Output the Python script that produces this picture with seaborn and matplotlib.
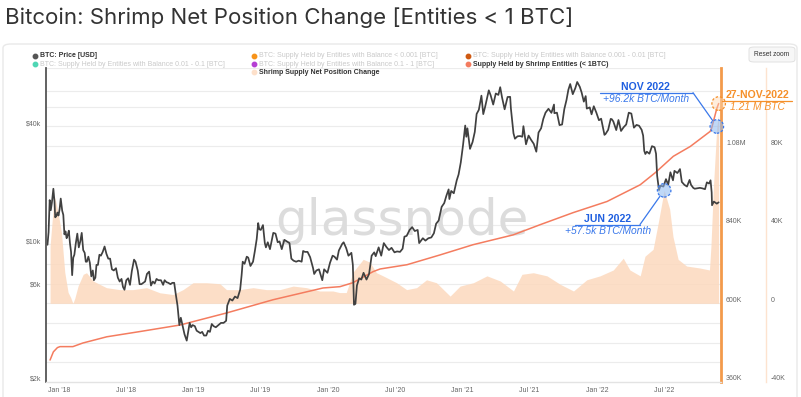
import numpy as np
import pandas as pd
import matplotlib
matplotlib.use("Agg")
import matplotlib.pyplot as plt
import matplotlib.dates as mdates
import matplotlib.ticker as mticker
from matplotlib.lines import Line2D
from matplotlib.patches import FancyBboxPatch, ConnectionPatch
from matplotlib.transforms import ScaledTranslation
import seaborn as sns

# ---------------- data ----------------
TITLE = "Bitcoin: Shrimp Net Position Change [Entities < 1 BTC]"

PRICE_DATES = [
    "2017-12-01", "2017-12-04", "2017-12-07", "2017-12-10", "2017-12-13", "2017-12-17", "2017-12-20", "2017-12-22", "2017-12-25", "2017-12-28", "2017-12-31",
    "2018-01-03", "2018-01-06", "2018-01-10", "2018-01-13", "2018-01-16", "2018-01-19", "2018-01-22", "2018-01-25", "2018-01-28", "2018-01-31",
    "2018-02-03", "2018-02-06", "2018-02-09", "2018-02-12", "2018-02-16", "2018-02-20", "2018-02-24", "2018-02-28",
    "2018-03-04", "2018-03-08", "2018-03-12", "2018-03-15", "2018-03-18", "2018-03-22", "2018-03-26", "2018-03-30",
    "2018-04-03", "2018-04-06", "2018-04-10", "2018-04-13", "2018-04-17", "2018-04-21", "2018-04-25", "2018-04-30",
    "2018-05-05", "2018-05-10", "2018-05-15", "2018-05-20", "2018-05-25", "2018-05-30",
    "2018-06-05", "2018-06-10", "2018-06-15", "2018-06-20", "2018-06-24", "2018-06-28",
    "2018-07-03", "2018-07-08", "2018-07-13", "2018-07-18", "2018-07-24", "2018-07-28",
    "2018-08-03", "2018-08-08", "2018-08-13", "2018-08-18", "2018-08-23", "2018-08-28",
    "2018-09-03", "2018-09-08", "2018-09-13", "2018-09-18", "2018-09-23", "2018-09-28",
    "2018-10-05", "2018-10-11", "2018-10-15", "2018-10-20", "2018-10-25", "2018-10-31",
    "2018-11-05", "2018-11-10", "2018-11-14", "2018-11-19", "2018-11-24", "2018-11-28",
    "2018-12-03", "2018-12-08", "2018-12-14", "2018-12-18", "2018-12-22", "2018-12-26", "2018-12-30",
    "2019-01-05", "2019-01-10", "2019-01-15", "2019-01-20", "2019-01-25", "2019-01-30",
    "2019-02-05", "2019-02-10", "2019-02-15", "2019-02-20", "2019-02-25",
    "2019-03-03", "2019-03-10", "2019-03-17", "2019-03-24", "2019-03-31",
    "2019-04-03", "2019-04-10", "2019-04-17", "2019-04-24",
    "2019-05-01", "2019-05-08", "2019-05-12", "2019-05-15", "2019-05-20", "2019-05-26", "2019-05-30",
    "2019-06-05", "2019-06-12", "2019-06-17", "2019-06-22", "2019-06-26", "2019-06-29",
    "2019-07-03", "2019-07-09", "2019-07-14", "2019-07-17", "2019-07-22", "2019-07-28",
    "2019-08-03", "2019-08-06", "2019-08-12", "2019-08-18", "2019-08-23", "2019-08-29",
    "2019-09-05", "2019-09-12", "2019-09-19", "2019-09-24", "2019-09-30",
    "2019-10-07", "2019-10-14", "2019-10-22", "2019-10-26", "2019-10-31",
    "2019-11-07", "2019-11-14", "2019-11-22", "2019-11-25",
    "2019-12-01", "2019-12-08", "2019-12-17", "2019-12-22", "2019-12-31",
    "2020-01-07", "2020-01-14", "2020-01-19", "2020-01-26", "2020-01-31",
    "2020-02-09", "2020-02-13", "2020-02-20", "2020-02-26",
    "2020-03-05", "2020-03-09", "2020-03-12", "2020-03-16", "2020-03-20", "2020-03-26",
    "2020-04-01", "2020-04-07", "2020-04-15", "2020-04-22", "2020-04-29",
    "2020-05-06", "2020-05-10", "2020-05-18", "2020-05-25",
    "2020-06-01", "2020-06-08", "2020-06-15", "2020-06-22", "2020-06-30",
    "2020-07-07", "2020-07-15", "2020-07-22", "2020-07-27",
    "2020-08-02", "2020-08-10", "2020-08-17", "2020-08-24",
    "2020-09-01", "2020-09-05", "2020-09-15", "2020-09-22", "2020-09-30",
    "2020-10-08", "2020-10-15", "2020-10-21", "2020-10-28",
    "2020-11-05", "2020-11-12", "2020-11-18", "2020-11-24", "2020-11-26",
    "2020-12-01", "2020-12-08", "2020-12-16", "2020-12-21", "2020-12-27",
    "2021-01-02", "2021-01-08", "2021-01-11", "2021-01-14", "2021-01-21", "2021-01-28",
    "2021-02-03", "2021-02-08", "2021-02-14", "2021-02-21", "2021-02-26",
    "2021-03-03", "2021-03-13", "2021-03-18", "2021-03-25",
    "2021-04-01", "2021-04-08", "2021-04-13", "2021-04-18", "2021-04-25",
    "2021-05-03", "2021-05-10", "2021-05-12", "2021-05-19", "2021-05-23", "2021-05-30",
    "2021-06-06", "2021-06-12", "2021-06-15", "2021-06-22", "2021-06-29",
    "2021-07-06", "2021-07-13", "2021-07-20", "2021-07-26",
    "2021-08-02", "2021-08-08", "2021-08-14", "2021-08-22", "2021-08-30",
    "2021-09-06", "2021-09-07", "2021-09-14", "2021-09-21", "2021-09-28",
    "2021-10-04", "2021-10-10", "2021-10-15", "2021-10-20", "2021-10-27",
    "2021-11-03", "2021-11-08", "2021-11-15", "2021-11-20", "2021-11-26",
    "2021-12-01", "2021-12-04", "2021-12-12", "2021-12-17", "2021-12-23", "2021-12-30",
    "2022-01-06", "2022-01-12", "2022-01-21", "2022-01-24", "2022-01-31",
    "2022-02-07", "2022-02-10", "2022-02-14", "2022-02-22", "2022-02-28",
    "2022-03-07", "2022-03-14", "2022-03-21", "2022-03-28",
    "2022-04-04", "2022-04-11", "2022-04-18", "2022-04-25",
    "2022-05-02", "2022-05-06", "2022-05-09", "2022-05-12", "2022-05-16", "2022-05-23", "2022-05-30",
    "2022-06-06", "2022-06-10", "2022-06-13", "2022-06-18", "2022-06-22", "2022-06-30",
    "2022-07-07", "2022-07-13", "2022-07-19", "2022-07-26", "2022-07-30",
    "2022-08-07", "2022-08-14", "2022-08-19", "2022-08-26",
    "2022-09-02", "2022-09-09", "2022-09-13", "2022-09-19", "2022-09-23", "2022-09-30",
    "2022-10-07", "2022-10-13", "2022-10-21", "2022-10-26",
    "2022-11-01", "2022-11-05", "2022-11-08", "2022-11-09", "2022-11-14", "2022-11-20", "2022-11-22", "2022-11-27",
]
PRICE_USD = [
    10000, 11600, 16900, 15000, 16400, 19300, 16600, 13800, 14000, 14600, 14100,
    15200, 17200, 14900, 14200, 11300, 11700, 10800, 11200, 11800, 10200,
    9200, 7000, 8600, 8900, 10200, 11400, 9700, 10400,
    11500, 9400, 9100, 8200, 8200, 8700, 8100, 6900,
    7400, 6600, 6800, 7900, 7900, 8900, 8800, 9200,
    9800, 9000, 8500, 8500, 7500, 7400,
    7600, 6800, 6500, 6700, 6100, 5900,
    6600, 6750, 6250, 7350, 8400, 8200,
    7400, 6300, 6300, 6400, 6500, 7100,
    7300, 6200, 6500, 6350, 6700, 6600,
    6600, 6250, 6600, 6450, 6400, 6300,
    6400, 6400, 5650, 4900, 3900, 4250,
    3850, 3500, 3250, 3600, 4000, 3800, 3900,
    3850, 3650, 3600, 3550, 3600, 3450,
    3450, 3650, 3600, 3950, 3850,
    3800, 3900, 4000, 4000, 4100,
    4900, 5300, 5200, 5450,
    5350, 5900, 7000, 8200, 8000, 8700, 8600,
    7800, 8200, 9300, 10700, 12900, 12000,
    11900, 12600, 10200, 9700, 10300, 9500,
    10800, 11500, 11400, 10300, 10400, 9500,
    10600, 10400, 10200, 8500, 8300,
    8200, 8300, 8200, 9300, 9200,
    9200, 8650, 7600, 7100,
    7400, 7500, 6600, 7500, 7200,
    8100, 8800, 8700, 8400, 9350,
    10100, 10300, 9600, 8800,
    9100, 7900, 4950, 5000, 6200, 6750,
    6650, 7200, 6650, 7100, 8800,
    9150, 8750, 9700, 8800,
    10200, 9750, 9400, 9650, 9150,
    9250, 9200, 9550, 11000,
    11100, 11900, 12300, 11750,
    11900, 10200, 10800, 10500, 10800,
    10900, 11450, 12800, 13300,
    15600, 16300, 17800, 19150, 17100,
    18800, 18300, 21300, 22800, 26300,
    32100, 40500, 35500, 39200, 30800, 33400,
    37600, 46400, 48700, 57500, 46300,
    50400, 61200, 57800, 51800,
    59000, 58000, 63500, 56300, 49000,
    56600, 56700, 49500, 37000, 34700, 35700,
    35800, 35500, 40200, 32500, 36000,
    34200, 32700, 29800, 37300,
    39200, 43800, 47100, 49300, 47000,
    51800, 46800, 47100, 40700, 41000,
    49100, 54700, 61600, 65900, 58500,
    62900, 67500, 63800, 59700, 53600,
    57200, 49400, 50100, 46200, 50800, 47100,
    43100, 43900, 36300, 36700, 38500,
    43800, 43600, 42500, 38400, 43200,
    38000, 39700, 41000, 47100,
    46600, 39500, 40800, 40400,
    38500, 36000, 30100, 29000, 29800, 29100, 31800,
    31400, 29100, 22500, 19000, 20000, 19800,
    21600, 20200, 23400, 21300, 23800,
    23200, 24300, 20900, 20200,
    19800, 21400, 20200, 19500, 19300, 19400,
    19500, 19400, 19200, 20800,
    20500, 21300, 18500, 15900, 16600, 16300, 16200, 16450,
]

SUPPLY_DATES = [
    "2017-12-08", "2017-12-17", "2017-12-28", "2018-01-04", "2018-02-08", "2018-03-07", "2018-05-11",
    "2018-08-09", "2018-11-26", "2019-04-02", "2019-08-05", "2019-12-19", "2020-02-03", "2020-03-09",
    "2020-05-03", "2020-05-22", "2020-08-03", "2020-11-01", "2021-01-29", "2021-05-18", "2021-07-30",
    "2021-10-28", "2022-01-28", "2022-04-28", "2022-06-08", "2022-07-27", "2022-09-11", "2022-11-04",
    "2022-11-08", "2022-11-22", "2022-11-27",
]
SUPPLY_K = [
    427, 452, 465, 468, 468, 479, 498,
    514, 534, 571, 611, 647, 651, 663,
    697, 705, 718, 748, 779, 809, 840,
    877, 911, 962, 999, 1049, 1079, 1125,
    1135, 1195, 1210,
]

NET_DATES = [
    "2017-12-08", "2017-12-17", "2017-12-21", "2017-12-30", "2018-01-08", "2018-01-17", "2018-01-26",
    "2018-02-02", "2018-02-08", "2018-02-13", "2018-02-22", "2018-03-08", "2018-03-17", "2018-04-04",
    "2018-05-10", "2018-06-15", "2018-07-21", "2018-08-27", "2018-10-02", "2018-11-07", "2018-12-04",
    "2018-12-31", "2019-02-06", "2019-03-14", "2019-04-01", "2019-05-07", "2019-06-12", "2019-07-18",
    "2019-08-24", "2019-09-29", "2019-11-04", "2019-12-10", "2020-01-15", "2020-02-02", "2020-02-20",
    "2020-03-10", "2020-04-06", "2020-04-24", "2020-05-12", "2020-05-30", "2020-07-06", "2020-08-02",
    "2020-08-29", "2020-09-25", "2020-10-22", "2020-11-28", "2020-12-25", "2021-01-30", "2021-03-08",
    "2021-04-13", "2021-05-19", "2021-06-11", "2021-07-12", "2021-08-18", "2021-09-23", "2021-10-29",
    "2021-12-04", "2022-01-09", "2022-02-14", "2022-03-13", "2022-03-31", "2022-04-28", "2022-05-11",
    "2022-06-02", "2022-06-16", "2022-07-02", "2022-07-17", "2022-07-26", "2022-08-09", "2022-09-01",
    "2022-10-07", "2022-11-02", "2022-11-06", "2022-11-13", "2022-11-22", "2022-11-27",
]
NET_K = [
    29, 49.6, 54, 46, 36, 15.8, 5.6,
    3, 0, 2.5, 8.8, 14.8, 15.6, 11.4,
    8, 7, 7, 8, 5.4, 4.5, 7,
    10.5, 10.5, 10, 7, 7, 8, 7,
    7, 8.8, 8, 6.3, 6.3, 5.5, 5.5,
    16, 22.4, 21, 15.6, 14, 10.5, 7,
    8, 12, 10.5, 3.7, 8.8, 10.5, 14,
    11.4, 6.3, 14.8, 15.6, 14, 9.7, 6.3,
    12, 14, 17, 23, 17, 14, 24,
    27.5, 41, 57.5, 48, 34, 22.4, 19,
    18, 17, 29, 60, 90, 96.2,
]

PRICE_TICKS = [2000, 6000, 10000, 40000]
PRICE_TICK_LABELS = ["$2k", "$6k", "$10k", "$40k"]
SUPPLY_TICKS_K = [360, 600, 840, 1080]
SUPPLY_TICK_LABELS = ["360K", "600K", "840K", "1.08M"]
NET_TICKS_K = [-40, 0, 40, 80]
NET_TICK_LABELS = ["-40K", "0", "40K", "80K"]
NET_GRID_K = [-30, -20, -10, 0, 10, 20, 30, 40, 60, 80, 90, 100, 108, 120]

LEGEND = [
    ("BTC: Price [USD]", "#555555", True),
    ("BTC: Supply Held by Entities with Balance < 0.001 [BTC]", "#f7931a", False),
    ("BTC: Supply Held by Entities with Balance 0.001 - 0.01 [BTC]", "#cf5a12", False),
    ("BTC: Supply Held by Entities with Balance 0.01 - 0.1 [BTC]", "#4fd6b4", False),
    ("BTC: Supply Held by Entities with Balance 0.1 - 1 [BTC]", "#b53fd4", False),
    ("Supply Held by Shrimp Entities (< 1BTC)", "#f47c5f", True),
    ("Shrimp Supply Net Position Change", "#fde0ca", True),
]

# ---------------- figure ----------------
sns.set_theme(style="white")
plt.rcParams["font.family"] = ["Liberation Sans", "DejaVu Sans"]

W, H = 801, 397
fig = plt.figure(figsize=(W / 100, H / 100), dpi=100)
fig.patch.set_facecolor("white")


def fx(x):
    return x / W


def fy(y):
    return 1 - y / H


L, R, T, B = 46, 720.5, 67.5, 382
ax = fig.add_axes([fx(L), fy(B), (R - L) / W, (B - T) / H])
ax2 = ax.twinx()
ax3 = ax.twinx()

price_df = pd.DataFrame({"date": pd.to_datetime(PRICE_DATES), "price": PRICE_USD})
supply_df = pd.DataFrame({"date": pd.to_datetime(SUPPLY_DATES), "supply": np.array(SUPPLY_K) * 1000.0})
net_df = pd.DataFrame({"date": pd.to_datetime(NET_DATES), "net": np.array(NET_K) * 1000.0})

# net position change area (bottom layer)
for g in NET_GRID_K:
    ax3.axhline(g * 1000, color="#ececec", lw=0.8, zorder=0)
ax3.fill_between(net_df["date"], 0, net_df["net"], color="#fcd9be", lw=0, alpha=0.85, zorder=1)

# shrimp supply line
sns.lineplot(data=supply_df, x="date", y="supply", ax=ax2, color="#f47c5f", lw=1.1)

# price line
sns.lineplot(data=price_df, x="date", y="price", ax=ax, color="#404040", lw=1.25)

# axes stacking
ax3.set_zorder(1)
ax2.set_zorder(3)
ax.set_zorder(4)
ax.patch.set_visible(False)
ax2.patch.set_visible(False)
ax3.patch.set_visible(False)

xmin, xmax = pd.Timestamp("2017-11-27"), pd.Timestamp("2022-12-02")
ax.set_xlim(xmin, xmax)

ax.set_yscale("log")
ax.set_ylim(2000, 80000)
ax.yaxis.set_major_locator(mticker.FixedLocator(PRICE_TICKS))
ax.yaxis.set_major_formatter(mticker.FixedFormatter(PRICE_TICK_LABELS))
ax.yaxis.set_minor_locator(mticker.NullLocator())

ax2.set_ylim(360000, 1320000)
ax2.yaxis.set_major_locator(mticker.FixedLocator([v * 1000 for v in SUPPLY_TICKS_K]))
ax2.yaxis.set_major_formatter(mticker.FixedFormatter(SUPPLY_TICK_LABELS))

ax3.set_ylim(-40000, 120000)
ax3.yaxis.set_major_locator(mticker.FixedLocator([v * 1000 for v in NET_TICKS_K]))
ax3.yaxis.set_major_formatter(mticker.FixedFormatter(NET_TICK_LABELS))

ax.xaxis.set_major_locator(mdates.MonthLocator(bymonth=[1, 7]))
ax.xaxis.set_major_formatter(mdates.DateFormatter("%b '%y"))

for a in (ax, ax2, ax3):
    a.set_xlabel("")
    a.set_ylabel("")
    a.grid(False)
    for s in a.spines.values():
        s.set_visible(False)

ax.spines["left"].set_visible(True)
ax.spines["left"].set_color("#555555")
ax.spines["left"].set_linewidth(1.3)
ax.spines["bottom"].set_visible(True)
ax.spines["bottom"].set_color("#e3e3e3")
ax.spines["bottom"].set_linewidth(1.0)

ax2.spines["right"].set_visible(True)
ax2.spines["right"].set_color("#f39a4b")
ax2.spines["right"].set_linewidth(2.0)

ax3.spines["right"].set_visible(True)
ax3.spines["right"].set_position(("axes", (766 - L) / (R - L)))
ax3.spines["right"].set_color("#fde3cf")
ax3.spines["right"].set_linewidth(1.0)

tick_kw = dict(length=0, labelsize=5, labelcolor="#666666")
ax.tick_params(axis="y", pad=3.6, **tick_kw)
ax.tick_params(axis="x", pad=3.8, **tick_kw)
ax2.tick_params(axis="y", pad=4.0, **tick_kw)
ax3.tick_params(axis="y", pad=3.6, **tick_kw)

# labels sit a few px above their tick like the reference
up = ScaledTranslation(0, 4 / 100, fig.dpi_scale_trans)
for a in (ax, ax2, ax3):
    for lab in a.get_yticklabels():
        lab.set_transform(lab.get_transform() + up)

# ---------------- annotations ----------------
BLUE = "#1f5fe0"
BLUE2 = "#3a78ea"
ORANGE = "#f5902a"

jun_i = int(np.argmax(NET_K[:-10]))
jun_x, jun_y = net_df["date"].iloc[jun_i], net_df["net"].iloc[jun_i]
nov_x, nov_y = net_df["date"].iloc[-2], net_df["net"].iloc[-2]
end_x, end_y = supply_df["date"].iloc[-1], supply_df["supply"].iloc[-1]

ax.scatter([jun_x, nov_x], [jun_y, nov_y], transform=ax3.transData, s=95,
           facecolor=(0.55, 0.72, 0.95, 0.55), edgecolor=BLUE2, linewidth=0.9,
           linestyle=(0, (2, 1.5)), zorder=10, clip_on=False)
ax.scatter([end_x], [end_y], transform=ax2.transData, s=95,
           facecolor=(1.0, 0.85, 0.7, 0.45), edgecolor=ORANGE, linewidth=0.9,
           linestyle=(0, (2, 1.5)), zorder=10, clip_on=False)
ax.set_xlim(xmin, xmax)
ax.set_ylim(2000, 80000)


def hline(x0, x1, y, color):
    fig.add_artist(Line2D([fx(x0), fx(x1)], [fy(y), fy(y)], transform=fig.transFigure,
                          color=color, lw=0.9, zorder=20))


def leader(x0, y0, xd, yd, axes, color):
    con = ConnectionPatch(xyA=(fx(x0), fy(y0)), coordsA=fig.transFigure,
                          xyB=(mdates.date2num(xd), yd), coordsB=axes.transData,
                          color=color, lw=0.9, shrinkB=5, zorder=20)
    fig.add_artist(con)


fig.text(fx(645), fy(86.5), "NOV 2022", ha="center", va="center", fontsize=7.6,
         fontweight="bold", color=BLUE, zorder=20)
fig.text(fx(646.5), fy(99.3), "+96.2k BTC/Month", ha="center", va="center", fontsize=7.4,
         style="italic", color=BLUE2, zorder=20)
hline(600, 693, 92.7, BLUE2)
leader(693, 92.7, nov_x, nov_y, ax3, BLUE2)

fig.text(fx(608), fy(218.5), "JUN 2022", ha="center", va="center", fontsize=7.6,
         fontweight="bold", color=BLUE, zorder=20)
fig.text(fx(608), fy(231), "+57.5k BTC/Month", ha="center", va="center", fontsize=7.4,
         style="italic", color=BLUE2, zorder=20)
hline(575, 640, 224.5, BLUE2)
leader(640, 224.5, jun_x, jun_y, ax3, BLUE2)

fig.text(fx(757), fy(94.5), "27-NOV-2022", ha="center", va="center", fontsize=7.6,
         fontweight="bold", color=ORANGE, zorder=20)
fig.text(fx(757), fy(107), "1.21 M BTC", ha="center", va="center", fontsize=7.4,
         style="italic", color=ORANGE, zorder=20)
hline(722, 792, 100.7, ORANGE)

# watermark
fig.text(fx(402), fy(235), "glassnode", ha="center", va="baseline", fontsize=36,
         family="DejaVu Sans", color="#dcdcdc", zorder=2)

# ---------------- title, card, legend ----------------
fig.text(fx(5), fy(18), TITLE, ha="left", va="center", fontsize=16,
         family=["Inter", "DejaVu Sans"], color="#333333")

card = FancyBboxPatch((fx(3), fy(420)), fx(794), (420 - 44) / H,
                      boxstyle="round,pad=0,rounding_size=0.01", transform=fig.transFigure,
                      facecolor="none", edgecolor="#e9e9e9", lw=1.0, zorder=0)
fig.add_artist(card)

btn = FancyBboxPatch((fx(749), fy(62)), fx(46), 15 / H,
                     boxstyle="round,pad=0,rounding_size=0.006", transform=fig.transFigure,
                     facecolor="#f7f7f7", edgecolor="#dddddd", lw=0.6, zorder=5)
fig.add_artist(btn)
fig.text(fx(772), fy(54.5), "Reset zoom", ha="center", va="center", fontsize=4.8,
         color="#333333", zorder=6)

leg_pos = [(35, 55.7), (254, 55.7), (468, 55.7), (35, 64), (254, 64), (468, 64), (254, 72.3)]
for (label, col, active), (lx, ly) in zip(LEGEND, leg_pos):
    fig.add_artist(Line2D([fx(lx)], [fy(ly)], marker="o", ms=3.2, color=col, lw=0,
                          transform=fig.transFigure, zorder=6))
    fig.text(fx(lx + 5), fy(ly), label, ha="left", va="center", fontsize=5,
             fontweight="bold" if active else "normal",
             color="#333333" if active else "#c9c9c9", zorder=6)

fig.savefig("out.png", dpi=100, facecolor="white")
